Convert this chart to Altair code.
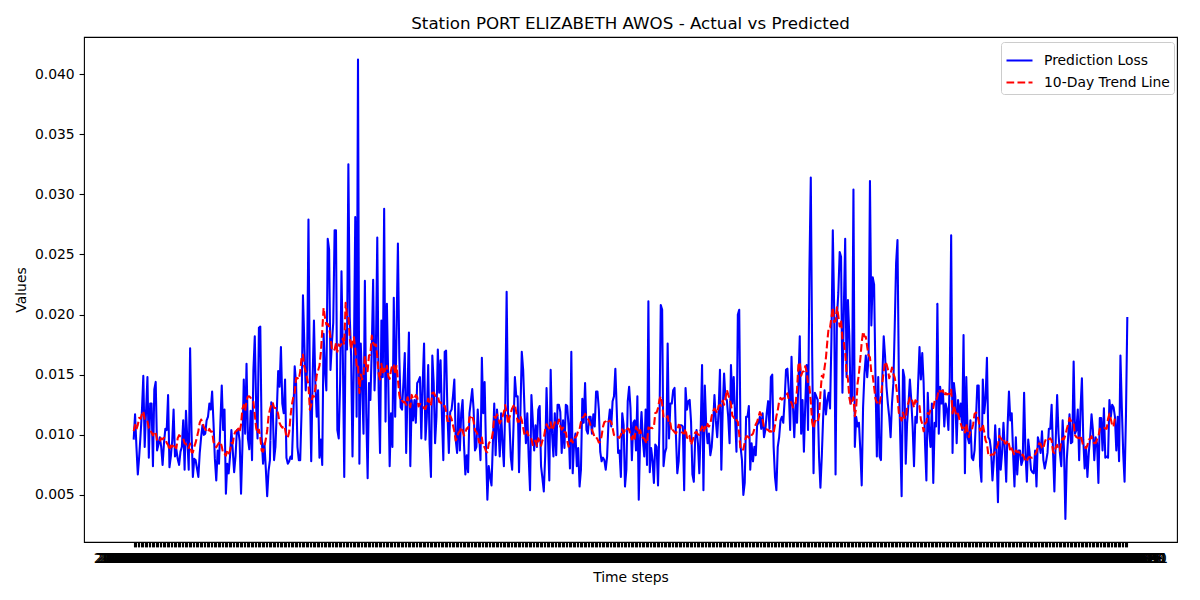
import altair as alt
import pandas as pd

# -----------------------------------------------------------------------------
# DATA (left to right, in six stretches)
# -----------------------------------------------------------------------------

TITLE = "Station PORT ELIZABETH AWOS - Actual vs Predicted"
SERIES = ["Prediction Loss", "10-Day Trend Line"]
START_YEAR, START_MONTH, START_DAY = 2022, 1, 8
WINDOW = 10

loss_a = [
    0.0096, 0.0117, 0.0090, 0.0067, 0.0082, 0.0100, 0.0120, 0.0149, 0.0090, 0.0120,
    0.0148, 0.0081, 0.0126, 0.0126, 0.0074, 0.0138, 0.0144, 0.0087, 0.0092, 0.0098,
    0.0090, 0.0075, 0.0093, 0.0105, 0.0104, 0.0133, 0.0073, 0.0082, 0.0095, 0.0121,
    0.0082, 0.0088, 0.0080, 0.0075, 0.0086, 0.0090, 0.0112, 0.0071, 0.0120, 0.0096,
    0.0071, 0.0172, 0.0104, 0.0065, 0.0080, 0.0079, 0.0072, 0.0065, 0.0085, 0.0098,
    0.0108, 0.0100, 0.0101, 0.0112, 0.0115, 0.0126, 0.0121, 0.0136, 0.0110, 0.0080,
    0.0062, 0.0087, 0.0076, 0.0110, 0.0141, 0.0104, 0.0121, 0.0051, 0.0076, 0.0068,
    0.0082, 0.0104, 0.0087, 0.0069, 0.0082, 0.0104, 0.0104, 0.0095, 0.0051, 0.0090,
    0.0146, 0.0101, 0.0159, 0.0097, 0.0088, 0.0120, 0.0079, 0.0154, 0.0182, 0.0123,
    0.0097, 0.0189, 0.0190, 0.0098, 0.0076, 0.0093, 0.0072, 0.0049, 0.0070, 0.0079,
    0.0127, 0.0125, 0.0079, 0.0090,
]

loss_b = [
    0.0120, 0.0153, 0.0140, 0.0173, 0.0126, 0.0118, 0.0146, 0.0081, 0.0076, 0.0078,
    0.0082, 0.0080, 0.0115, 0.0157, 0.0143, 0.0090, 0.0079, 0.0079, 0.0120, 0.0216,
    0.0176, 0.0137, 0.0154, 0.0279, 0.0143, 0.0078, 0.0146, 0.0195, 0.0143, 0.0115,
    0.0137, 0.0081, 0.0096, 0.0075, 0.0184, 0.0154, 0.0137, 0.0263, 0.0254, 0.0154,
    0.0176, 0.0193, 0.0270, 0.0270, 0.0104, 0.0097, 0.0143, 0.0236, 0.0165, 0.0065,
    0.0187, 0.0171, 0.0325, 0.0198, 0.0165, 0.0082, 0.0162, 0.0281, 0.0115, 0.0412,
    0.0076, 0.0176, 0.0143, 0.0101, 0.0228, 0.0118, 0.0064, 0.0143, 0.0129, 0.0171,
    0.0229, 0.0137, 0.0171, 0.0264, 0.0137, 0.0085, 0.0195, 0.0148, 0.0288, 0.0111,
    0.0209, 0.0143, 0.0074, 0.0118, 0.0090, 0.0214, 0.0115, 0.0187, 0.0259, 0.0165,
    0.0123, 0.0121, 0.0143, 0.0168, 0.0085, 0.0137, 0.0185, 0.0074, 0.0129, 0.0112,
    0.0129, 0.0110, 0.0143, 0.0145, 0.0148, 0.0097, 0.0143, 0.0176, 0.0096, 0.0115,
    0.0158, 0.0093, 0.0065, 0.0166, 0.0143, 0.0093, 0.0115, 0.0171, 0.0135, 0.0162,
    0.0115, 0.0079,
]

loss_c = [
    0.0169, 0.0170, 0.0118, 0.0085, 0.0119, 0.0121, 0.0132, 0.0146, 0.0096, 0.0085,
    0.0126, 0.0087, 0.0118, 0.0129, 0.0093, 0.0067, 0.0083, 0.0069, 0.0118, 0.0128,
    0.0138, 0.0121, 0.0087, 0.0090, 0.0121, 0.0100, 0.0079, 0.0164, 0.0118, 0.0144,
    0.0089, 0.0046, 0.0074, 0.0065, 0.0058, 0.0093, 0.0126, 0.0083, 0.0121, 0.0107,
    0.0082, 0.0118, 0.0093, 0.0074, 0.0126, 0.0219, 0.0118, 0.0112, 0.0082, 0.0071,
    0.0107, 0.0148, 0.0132, 0.0132, 0.0069, 0.0118, 0.0169, 0.0154, 0.0120, 0.0093,
    0.0118, 0.0082, 0.0054, 0.0133, 0.0112, 0.0087, 0.0108, 0.0090, 0.0121, 0.0124,
    0.0074, 0.0064, 0.0053, 0.0082, 0.0139, 0.0098, 0.0062, 0.0154, 0.0101, 0.0082,
    0.0118, 0.0083, 0.0125, 0.0125, 0.0119, 0.0085, 0.0112, 0.0089, 0.0125, 0.0124,
    0.0107, 0.0072, 0.0169, 0.0068, 0.0093, 0.0101, 0.0074, 0.0089, 0.0057, 0.0071,
    0.0130, 0.0110, 0.0143, 0.0104, 0.0101, 0.0115, 0.0115, 0.0101, 0.0117, 0.0107,
    0.0136, 0.0136, 0.0121, 0.0086, 0.0078, 0.0081, 0.0079, 0.0071, 0.0082, 0.0110,
    0.0121, 0.0107, 0.0128, 0.0132, 0.0155,
]

loss_d = [
    0.0121, 0.0085, 0.0087, 0.0065, 0.0118, 0.0108, 0.0057, 0.0071, 0.0128, 0.0140,
    0.0122, 0.0079, 0.0110, 0.0112, 0.0087, 0.0132, 0.0046, 0.0098, 0.0119, 0.0096,
    0.0082, 0.0121, 0.0075, 0.0211, 0.0069, 0.0089, 0.0079, 0.0060, 0.0092, 0.0090,
    0.0058, 0.0105, 0.0208, 0.0204, 0.0074, 0.0085, 0.0089, 0.0176, 0.0097, 0.0126,
    0.0126, 0.0137, 0.0139, 0.0100, 0.0068, 0.0078, 0.0108, 0.0108, 0.0107, 0.0054,
    0.0139, 0.0121, 0.0128, 0.0129, 0.0111, 0.0067, 0.0061, 0.0097, 0.0104, 0.0093,
    0.0068, 0.0104, 0.0158, 0.0054, 0.0141, 0.0108, 0.0093, 0.0101, 0.0083, 0.0090,
    0.0108, 0.0133, 0.0112, 0.0098, 0.0119, 0.0154, 0.0071, 0.0121, 0.0151, 0.0130,
    0.0129, 0.0115, 0.0093, 0.0158, 0.0126, 0.0148, 0.0115, 0.0086, 0.0200, 0.0204,
    0.0090, 0.0079, 0.0050, 0.0060, 0.0115, 0.0115, 0.0124, 0.0071, 0.0093, 0.0078,
    0.0090, 0.0083, 0.0108, 0.0110, 0.0115, 0.0105, 0.0118, 0.0098, 0.0104, 0.0118,
    0.0128, 0.0105, 0.0148, 0.0150, 0.0090, 0.0065, 0.0054, 0.0090, 0.0098, 0.0112,
    0.0115, 0.0110, 0.0129, 0.0154, 0.0155, 0.0137,
]

loss_e = [
    0.0104, 0.0165, 0.0126, 0.0098, 0.0126, 0.0110, 0.0143, 0.0182, 0.0101, 0.0129,
    0.0086, 0.0126, 0.0158, 0.0104, 0.0237, 0.0314, 0.0168, 0.0068, 0.0135, 0.0132,
    0.0129, 0.0082, 0.0056, 0.0082, 0.0115, 0.0137, 0.0117, 0.0129, 0.0135, 0.0122,
    0.0179, 0.0270, 0.0204, 0.0067, 0.0198, 0.0218, 0.0252, 0.0248, 0.0135, 0.0204,
    0.0263, 0.0148, 0.0212, 0.0182, 0.0126, 0.0132, 0.0304, 0.0090, 0.0115, 0.0107,
    0.0110, 0.0087, 0.0058, 0.0123, 0.0151, 0.0166, 0.0148, 0.0165, 0.0311, 0.0191,
    0.0231, 0.0225, 0.0148, 0.0082, 0.0148, 0.0082, 0.0079, 0.0148, 0.0182, 0.0165,
    0.0140, 0.0126, 0.0115, 0.0098, 0.0126, 0.0143, 0.0190, 0.0243, 0.0262, 0.0146,
    0.0098, 0.0049, 0.0154, 0.0148, 0.0076, 0.0110, 0.0126, 0.0146, 0.0129, 0.0107,
    0.0074, 0.0115, 0.0110, 0.0143, 0.0173, 0.0146, 0.0168, 0.0143, 0.0093, 0.0062,
    0.0135, 0.0104, 0.0090, 0.0126, 0.0060, 0.0110, 0.0107, 0.0209, 0.0101, 0.0140,
    0.0126, 0.0137, 0.0107, 0.0126, 0.0121, 0.0104, 0.0148, 0.0266, 0.0085, 0.0143,
    0.0132, 0.0093, 0.0129, 0.0115, 0.0126, 0.0104, 0.0183,
]

loss_f = [
    0.0068, 0.0148, 0.0098, 0.0093, 0.0112, 0.0081, 0.0079, 0.0087, 0.0112, 0.0141,
    0.0141, 0.0074, 0.0061, 0.0146, 0.0118, 0.0130, 0.0164, 0.0098, 0.0096, 0.0087,
    0.0062, 0.0079, 0.0108, 0.0085, 0.0044, 0.0105, 0.0071, 0.0085, 0.0110, 0.0087,
    0.0061, 0.0107, 0.0136, 0.0112, 0.0118, 0.0085, 0.0057, 0.0098, 0.0067, 0.0087,
    0.0087, 0.0075, 0.0079, 0.0135, 0.0085, 0.0061, 0.0096, 0.0085, 0.0071, 0.0069,
    0.0068, 0.0087, 0.0057, 0.0098, 0.0093, 0.0085, 0.0103, 0.0079, 0.0072, 0.0078,
    0.0085, 0.0105, 0.0105, 0.0125, 0.0087, 0.0053, 0.0096, 0.0133, 0.0101, 0.0085,
    0.0074, 0.0112, 0.0087, 0.0030, 0.0079, 0.0098, 0.0117, 0.0093, 0.0094, 0.0161,
    0.0101, 0.0104, 0.0121, 0.0079, 0.0122, 0.0147, 0.0096, 0.0072, 0.0090, 0.0065,
    0.0085, 0.0098, 0.0117, 0.0104, 0.0079, 0.0098, 0.0093, 0.0060, 0.0114, 0.0114,
    0.0087, 0.0122, 0.0081, 0.0082, 0.0081, 0.0129, 0.0115, 0.0125, 0.0123, 0.0115,
    0.0087, 0.0115, 0.0078, 0.0166, 0.0123, 0.0085, 0.0061, 0.0115, 0.0198,
]

y_ticks = [0.005, 0.010, 0.015, 0.020, 0.025, 0.030, 0.035, 0.040]

loss = loss_a + loss_b + loss_c + loss_d + loss_e + loss_f
n = len(loss)
df = pd.DataFrame({"idx": range(n), "loss": loss})

# -----------------------------------------------------------------------------
# CHART
# -----------------------------------------------------------------------------

FONT = "DejaVu Sans"
X_PAD = 0.05 * (n - 1)  # matplotlib's default 5% margin on each side

# trend = mean of the next WINDOW values (numpy 'valid' convolution style),
# so it stops WINDOW-1 steps before the end of the loss series
base = alt.Chart(df).transform_window(
    trend="mean(loss)", frame=[0, WINDOW - 1], sort=[alt.SortField("idx")]
).transform_fold(
    ["loss", "trend"], as_=["key", "value"]
).transform_filter(
    f"datum.key == 'loss' || datum.idx <= {n - WINDOW}"
).transform_calculate(
    series=f"datum.key == 'loss' ? '{SERIES[0]}' : '{SERIES[1]}'"
)

# every time step gets a date tick label (they pile up into a black band)
date_label = (f"timeFormat(datetime({START_YEAR}, {START_MONTH - 1}, "
              f"{START_DAY} + datum.value), '%Y-%m-%d')")

x_enc = alt.X(
    "idx:Q", title="Time steps",
    scale=alt.Scale(domain=[-X_PAD, n - 1 + X_PAD], nice=False, zero=False),
    axis=alt.Axis(values=list(range(n)), labelExpr=date_label, labelAngle=0,
                  labelOverlap=False, labelFlush=False, labelBound=False,
                  labelLimit=0, titlePadding=5),
)
y_enc = alt.Y(
    "value:Q", title="Values",
    scale=alt.Scale(domain=[0.00109, 0.04308], nice=False, zero=False),
    axis=alt.Axis(values=y_ticks, format=".3f", titlePadding=6),
)
legend = alt.Legend(title=None, orient="none", legendX=917, legendY=5)
color_enc = alt.Color("series:N", legend=legend,
                      scale=alt.Scale(domain=SERIES, range=["#0000ff", "#ff0000"]))
dash_enc = alt.StrokeDash("series:N", legend=legend,
                          scale=alt.Scale(domain=SERIES, range=[[1, 0], [7.7, 3.3]]))


def series_line(key):
    return base.transform_filter(f"datum.key == '{key}'").mark_line(
        strokeWidth=2.08, strokeJoin="round"
    ).encode(x=x_enc, y=y_enc, color=color_enc, strokeDash=dash_enc)


chart = alt.layer(series_line("loss"), series_line("trend")).properties(
    width=1093,
    height=505,
    autosize="none",
    padding={"left": 76, "top": 29, "right": 15, "bottom": 50},
    title=alt.TitleParams(TITLE, font=FONT, fontSize=16.7, fontWeight="normal",
                          anchor="middle", color="black", offset=4),
).configure_view(
    stroke="black", strokeWidth=1.1
).configure_axis(
    domain=False, grid=False,
    labelFont=FONT, titleFont=FONT, labelFontSize=13.9, titleFontSize=13.9,
    titleFontWeight="normal", labelColor="black", titleColor="black",
    tickColor="black", tickWidth=1.1, tickSize=4.9, labelPadding=4.9,
).configure_legend(
    fillColor="white", strokeColor="#cccccc", cornerRadius=3, padding=4,
    symbolType="stroke", symbolSize=676, symbolStrokeWidth=2.08,
    labelFont=FONT, labelFontSize=13.9, labelColor="black",
    labelOffset=10, rowPadding=-3,
)

chart.save("out.html", embed_options={"renderer": "svg", "actions": False})
